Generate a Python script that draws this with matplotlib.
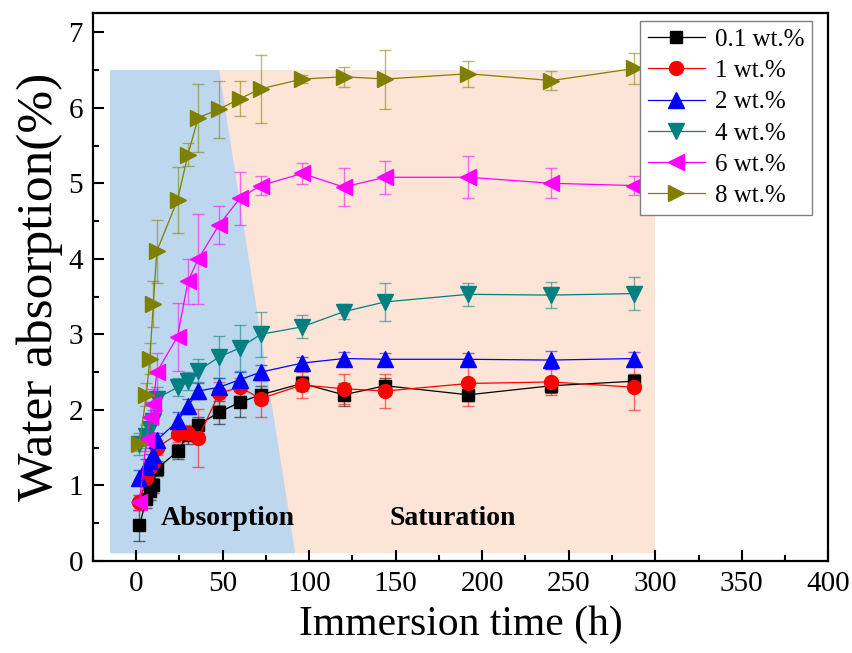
import numpy as np
import matplotlib.pyplot as plt
from matplotlib.patches import Polygon, Rectangle
from matplotlib.ticker import MultipleLocator

plt.rcParams['font.family'] = ['Liberation Serif', 'DejaVu Serif']

# immersion times (h)
hours = [2, 6, 8, 10, 12, 24, 30, 36, 48, 60, 72, 96, 120, 144, 192, 240, 288]

labels = ['0.1 wt.%', '1 wt.%', '2 wt.%', '4 wt.%', '6 wt.%', '8 wt.%']

w01 = [0.47, 0.82, 0.93, 1.0, 1.22, 1.45, 1.67, 1.8, 1.97, 2.1, 2.2, 2.35, 2.2, 2.32, 2.2, 2.32, 2.38]
w01_err = [0.2, 0.12, 0.12, 0.1, 0.1, 0.1, 0.12, 0.1, 0.15, 0.2, 0.12, 0.1, 0.15, 0.1, 0.08, 0.1, 0.1]

w1 = [0.78, 1.1, 1.25, 1.3, 1.5, 1.68, 1.7, 1.63, 2.22, 2.3, 2.15, 2.33, 2.28, 2.25, 2.35, 2.37, 2.3]
w1_err = [0.1, 0.12, 0.1, 0.1, 0.1, 0.1, 0.1, 0.38, 0.15, 0.12, 0.25, 0.17, 0.2, 0.23, 0.3, 0.17, 0.3]

w2 = [1.1, 1.25, 1.32, 1.4, 1.6, 1.85, 2.05, 2.25, 2.3, 2.4, 2.5, 2.62, 2.68, 2.67, 2.67, 2.66, 2.68]
w2_err = [0.1, 0.1, 0.1, 0.1, 0.1, 0.12, 0.1, 0.1, 0.12, 0.1, 0.1, 0.08, 0.08, 0.08, 0.08, 0.12, 0.08]

w4 = [1.55, 1.65, 1.75, 1.85, 2.15, 2.3, 2.38, 2.52, 2.7, 2.82, 3.0, 3.1, 3.3, 3.43, 3.53, 3.52, 3.54]
w4_err = [0.15, 0.15, 0.15, 0.15, 0.15, 0.12, 0.12, 0.15, 0.28, 0.3, 0.3, 0.15, 0.1, 0.25, 0.15, 0.17, 0.22]

w6 = [0.78, 1.6, 1.9, 2.08, 2.5, 2.97, 3.7, 4.0, 4.45, 4.8, 4.97, 5.13, 4.95, 5.08, 5.08, 5.0, 4.97]
w6_err = [0.1, 0.15, 0.2, 0.2, 0.25, 0.45, 0.3, 0.6, 0.25, 0.35, 0.13, 0.14, 0.25, 0.22, 0.28, 0.2, 0.12]

w8 = [1.55, 2.2, 2.68, 3.4, 4.1, 4.78, 5.38, 5.87, 5.98, 6.12, 6.25, 6.38, 6.41, 6.38, 6.45, 6.36, 6.52]
w8_err = [0.1, 0.15, 0.2, 0.3, 0.42, 0.44, 0.15, 0.45, 0.38, 0.23, 0.45, 0.05, 0.13, 0.39, 0.17, 0.12, 0.2]

series = [w01, w1, w2, w4, w6, w8]
errors = [w01_err, w1_err, w2_err, w4_err, w6_err, w8_err]
colors = ['#000000', '#FF0000', '#0000FF', '#008080', '#FF00FF', '#808000']
markers = ['s', 'o', '^', 'v', '<', '>']
sizes = [9, 10, 11, 11, 11, 11]

# phase regions
abs_left, abs_top_right, abs_bot_right = -15, 48, 92
sat_left, sat_right = 47, 300
y_low, y_high = 0.1, 6.5

fig = plt.figure(figsize=(8.53, 6.53), dpi=100)
ax = fig.add_axes([0.1087, 0.1409, 0.8624, 0.8387])

ax.add_patch(Rectangle((sat_left, y_low), sat_right - sat_left, y_high - y_low,
                       facecolor='#FCE4D6', edgecolor='none', zorder=0))
ax.add_patch(Polygon([(abs_left, y_low), (abs_left, y_high), (abs_top_right, y_high), (abs_bot_right, y_low)],
                     closed=True, facecolor='#BDD7EE', edgecolor='none', zorder=0.5))

handles = []
for vals, errs, c, m, ms, lab in zip(series, errors, colors, markers, sizes, labels):
    eb = ax.errorbar(hours, vals, yerr=errs, color=c, ecolor=c, elinewidth=1.0, capsize=4, capthick=1.0,
                     marker=m, markersize=ms, linewidth=0.9, label=lab)
    for part in eb[2]:
        part.set_alpha(0.55)
    for cap in eb[1]:
        cap.set_alpha(0.55)
    handles.append(eb[0])

ax.text(53, 0.56, 'Absorption', fontsize=20, fontweight='bold', ha='center', va='center')
ax.text(183, 0.56, 'Saturation', fontsize=20, fontweight='bold', ha='center', va='center')

ax.set_xlim(-25, 400)
ax.set_ylim(0, 7.25)
ax.xaxis.set_major_locator(MultipleLocator(50))
ax.xaxis.set_minor_locator(MultipleLocator(25))
ax.yaxis.set_major_locator(MultipleLocator(1))
ax.yaxis.set_minor_locator(MultipleLocator(0.5))
ax.tick_params(which='both', direction='in', top=False, right=False, width=1.5, labelsize=21, pad=7)
ax.tick_params(which='major', length=8)
ax.tick_params(which='minor', length=4.5)
for sp in ax.spines.values():
    sp.set_linewidth(1.6)

ax.set_xlabel('Immersion time (h)', fontsize=30, labelpad=6)
ax.set_ylabel('Water absorption(%)', fontsize=37, labelpad=4)

leg = ax.legend(handles, labels, loc='upper right', bbox_to_anchor=(0.978, 0.986), borderaxespad=0,
                fontsize=18, fancybox=False, framealpha=1, edgecolor='#808080', handlelength=2.3,
                labelspacing=0.35, handletextpad=0.4, borderpad=0.3)
leg.get_frame().set_linewidth(1.0)

fig.savefig('out.png', dpi=100)
